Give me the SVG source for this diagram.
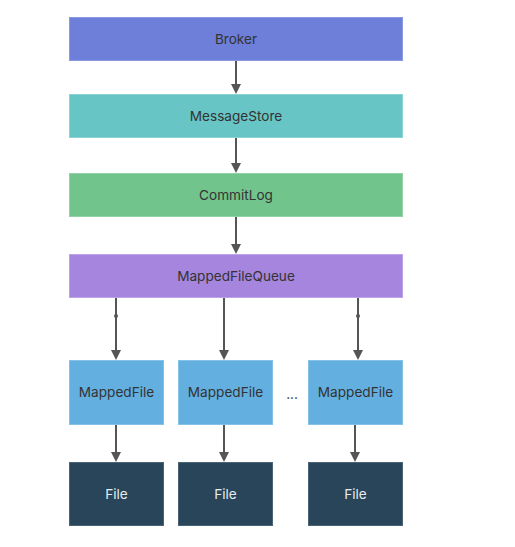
<svg xmlns="http://www.w3.org/2000/svg" width="515" height="547" viewBox="0 0 515 547">
<defs>
<marker id="ah" markerWidth="10" markerHeight="10" refX="5" refY="5" orient="auto" markerUnits="userSpaceOnUse" viewBox="0 0 10 10">
<path d="M0,0 L10,5 L0,10 Z" fill="#555"/>
</marker>
</defs>
<style>
text{font-family:"Inter","Liberation Sans",sans-serif;font-size:13.6px;text-anchor:middle;dominant-baseline:central;fill:#333}
.f text{fill:#e6ecef}
.e{stroke:#555;stroke-width:2;fill:none;marker-end:url(#ah)}
rect{stroke-width:1}
</style>
<rect width="515" height="547" fill="#fff"/>
<g id="broker"><rect x="69.5" y="17.5" width="333" height="43" fill="#6d7fd8" stroke="#8b99e0"/><text x="236" y="39">Broker</text></g>
<g id="messagestore"><rect x="69.5" y="94.5" width="333" height="43" fill="#67c5c5" stroke="#8dd3d3"/><text x="236" y="116">MessageStore</text></g>
<g id="commitlog"><rect x="69.5" y="173.5" width="333" height="43" fill="#71c48b" stroke="#93d2a6"/><text x="236" y="195">CommitLog</text></g>
<g id="mappedfilequeue"><rect x="69.5" y="254.5" width="333" height="43" fill="#a585dd" stroke="#bba3e5"/><text x="236" y="276">MappedFileQueue</text></g>
<g id="mf1"><rect x="69.5" y="360.5" width="94" height="64" fill="#63afe0" stroke="#86c1e7"/><text x="116.5" y="392">MappedFile</text></g>
<g id="mf2"><rect x="178.5" y="360.5" width="94" height="64" fill="#63afe0" stroke="#86c1e7"/><text x="225.5" y="392">MappedFile</text></g>
<g id="mf3"><rect x="308.5" y="360.5" width="94" height="64" fill="#63afe0" stroke="#86c1e7"/><text x="355.5" y="392">MappedFile</text></g>
<g id="ellipsis"><text x="292" y="394">...</text></g>
<g id="file1" class="f"><rect x="69.5" y="462.5" width="94" height="63" fill="#284559" stroke="#4b6475"/><text x="116.5" y="494">File</text></g>
<g id="file2" class="f"><rect x="178.5" y="462.5" width="94" height="63" fill="#284559" stroke="#4b6475"/><text x="225.5" y="494">File</text></g>
<g id="file3" class="f"><rect x="308.5" y="462.5" width="94" height="63" fill="#284559" stroke="#4b6475"/><text x="355.5" y="494">File</text></g>
<g id="connectors">
<line class="e" x1="236" y1="61" x2="236" y2="89"/>
<line class="e" x1="236" y1="138" x2="236" y2="168"/>
<line class="e" x1="236" y1="217" x2="236" y2="249"/>
<line class="e" x1="116" y1="298" x2="116" y2="355"/>
<circle cx="116" cy="316" r="2" fill="#555"/>
<line class="e" x1="224" y1="298" x2="224" y2="355"/>
<line class="e" x1="358" y1="298" x2="358" y2="355"/>
<circle cx="358" cy="316" r="2" fill="#555"/>
<line class="e" x1="116" y1="425" x2="116" y2="457"/>
<line class="e" x1="224" y1="425" x2="224" y2="457"/>
<line class="e" x1="355" y1="425" x2="355" y2="457"/>
</g>
</svg>
